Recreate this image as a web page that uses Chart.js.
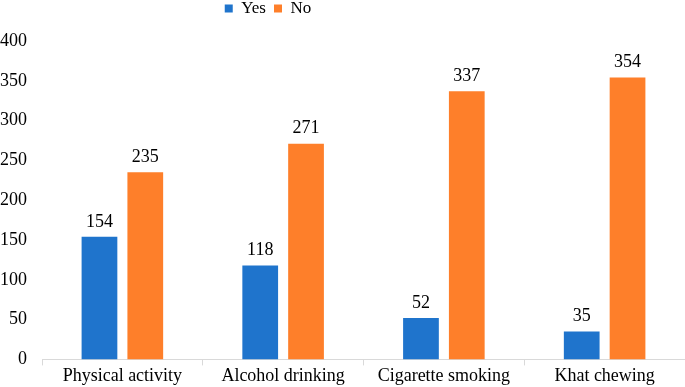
<!DOCTYPE html>
<html>
<head>
<meta charset="utf-8">
<script src="https://cdn.jsdelivr.net/npm/chart.js@4"></script>
<style>
  html, body { margin: 0; padding: 0; background: #fff; }
  #wrap { width: 685px; height: 387px; }
</style>
</head>
<body>
<div id="wrap"><canvas id="c"></canvas></div>
<script>
const categories = ['Physical activity', 'Alcohol drinking', 'Cigarette smoking', 'Khat chewing'];
const yesValues = [154, 118, 52, 35];
const noValues = [235, 271, 337, 354];
const yTicks = [0, 50, 100, 150, 200, 250, 300, 350, 400];

const FONT = "'Liberation Serif', 'Times New Roman', serif";

// draws the value above every bar
const barValues = {
  id: 'barValues',
  afterDatasetsDraw(chart) {
    const ctx = chart.ctx;
    ctx.save();
    ctx.font = '18px ' + FONT;
    ctx.fillStyle = '#000';
    ctx.textAlign = 'center';
    ctx.textBaseline = 'bottom';
    chart.data.datasets.forEach((ds, i) => {
      chart.getDatasetMeta(i).data.forEach((bar, j) => {
        ctx.fillText(ds.data[j], bar.x, bar.y - 6);
      });
    });
    ctx.restore();
  }
};

// legend sits left of centre in the original, and the plot starts lower
const legendTweak = {
  id: 'legendTweak',
  beforeInit(chart) {
    const fit = chart.legend.fit;
    chart.legend.fit = function () {
      fit.call(this);
      this.height = 41;
    };
  },
  afterLayout(chart) {
    const lg = chart.legend;
    lg.right = 536;
    lg.top -= 8;
    lg.bottom -= 8;
  }
};

new Chart(document.getElementById('c'), {
  type: 'bar',
  data: {
    labels: categories,
    datasets: [
      { label: 'Yes', data: yesValues, backgroundColor: '#1f74cc', categoryPercentage: 0.57, barPercentage: 0.78 },
      { label: 'No', data: noValues, backgroundColor: '#fe7f2a', categoryPercentage: 0.57, barPercentage: 0.78 }
    ]
  },
  options: {
    responsive: true, maintainAspectRatio: false, animation: false,
    layout: { padding: 0 },
    plugins: {
      legend: {
        position: 'top',
        labels: { boxWidth: 8, boxHeight: 8, padding: 8, color: '#000', font: { family: FONT, size: 17 } }
      },
      tooltip: { enabled: false }
    },
    scales: {
      x: {
        grid: { offset: true, drawOnChartArea: false, drawTicks: true, tickLength: 6, color: '#d9d9d9' },
        border: { color: '#d9d9d9' },
        ticks: { color: '#000', font: { family: FONT, size: 18 }, padding: 0 }
      },
      y: {
        min: 0, max: 400,
        afterBuildTicks(axis) { axis.ticks = yTicks.map(v => ({ value: v })); },
        afterFit(axis) { axis.width = 42; },
        grid: { display: false, drawTicks: false },
        border: { display: false },
        ticks: { color: '#000', font: { family: FONT, size: 18 }, padding: 15 }
      }
    }
  },
  plugins: [barValues, legendTweak]
});
</script>
</body>
</html>
